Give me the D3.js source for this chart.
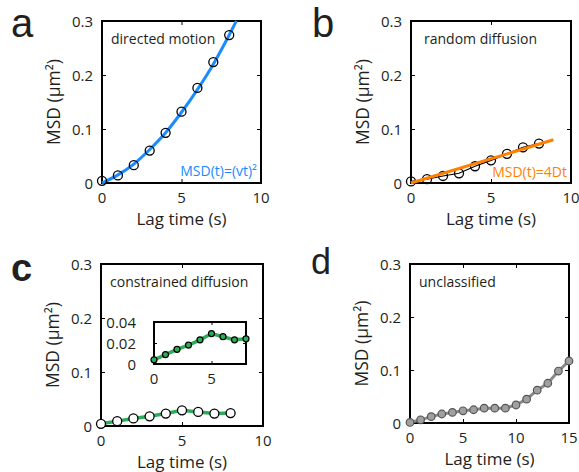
<!DOCTYPE html>
<html><head><meta charset="utf-8">
<script src="https://cdn.jsdelivr.net/npm/d3@7"></script>
<style>
html,body{margin:0;padding:0;background:#fff;}
svg{display:block;font-family:"Open Sans","Noto Sans",sans-serif;}
</style></head>
<body><svg id="chart" width="579" height="472"></svg>
<script>
// ---- data ----
const tA = [0,1,2,3,4,5,6,7,8];
const msdA = [0.004,0.014,0.033,0.060,0.093,0.132,0.176,0.224,0.274];
const fitTA = [0,1,2,3,4,5,6,7,8,8.45];
const fitA = [0,0.015,0.035,0.062,0.093,0.131,0.173,0.220,0.274,0.300];

const tB = [0,1,2,3,4,5,6,7,8];
const msdB = [0.003,0.007,0.013,0.018,0.031,0.042,0.054,0.066,0.073];
const fitTB = [0,8.9];
const fitB = [0,0.080];

const tC = [0,1,2,3,4,5,6,7,8];
const msdC = [0.004,0.009,0.014,0.018,0.023,0.029,0.026,0.023,0.024];

const tD = [0,1,2,3,4,5,6,7,8,9,10,11,12,13,14,15];
const msdD = [0.001,0.006,0.012,0.017,0.020,0.023,0.025,0.028,0.028,0.028,0.034,0.045,0.062,0.075,0.098,0.117];

const yTicks = [0,0.1,0.2,0.3];
const yTickLabels = ["0","0.1","0.2","0.3"];
const xTicks10 = [0,5,10];
const xTicks15 = [0,5,10,15];
const insetYTicks = [0,0.02,0.04];
const insetYLabels = ["0","0.02","0.04"];
const insetXTicks = [0,5];

const svg = d3.select("#chart");
const TXT = "#231f20";

function panel(o){
  const x = d3.scaleLinear().domain(o.xd).range([o.l,o.r]);
  const y = d3.scaleLinear().domain(o.yd).range([o.b,o.t]);
  const g = svg.append("g");
  const tl = o.tickLen || 4;
  g.append("g").attr("transform",`translate(0,${o.b})`).call(d3.axisBottom(x).tickValues(o.xt).tickSize(-tl).tickFormat(""));
  g.append("g").attr("transform",`translate(0,${o.t})`).call(d3.axisTop(x).tickValues(o.xt).tickSize(-tl).tickFormat(""));
  g.append("g").attr("transform",`translate(${o.l},0)`).call(d3.axisLeft(y).tickValues(o.yt).tickSize(-tl).tickFormat(""));
  g.append("g").attr("transform",`translate(${o.r},0)`).call(d3.axisRight(y).tickValues(o.yt).tickSize(-tl).tickFormat(""));
  g.selectAll(".domain").remove();
  g.selectAll(".tick line").attr("stroke","#000").attr("stroke-width",1);
  g.selectAll(null).data(o.xt).enter().append("text")
    .attr("x",d=>x(d)).attr("y",o.b+o.xlOff).attr("text-anchor","middle")
    .attr("font-size",o.fs).attr("fill",TXT).text(d=>d);
  g.selectAll(null).data(o.yt).enter().append("text")
    .attr("x",o.l-o.ylOff).attr("y",d=>y(d)+o.fs*0.36+1).attr("text-anchor","end")
    .attr("font-size",o.fs).attr("fill",TXT).text((d,i)=>o.ytl[i]);
  g.append("rect").attr("x",o.l).attr("y",o.t).attr("width",o.r-o.l).attr("height",o.b-o.t)
    .attr("fill","none").attr("stroke","#000").attr("stroke-width",2);
  return {x,y,g};
}

function labels(o){
  svg.append("text").attr("x",(o.l+o.r)/2).attr("y",o.b+42).attr("text-anchor","middle")
    .attr("font-size",17).attr("fill",TXT).text("Lag time (s)");
  svg.append("text").attr("transform",`translate(${o.l-42},${(o.t+o.b)/2}) rotate(-90)`)
    .attr("text-anchor","middle").attr("font-size",17.5).attr("fill",TXT).text("MSD (μm²)");
}

function letter(t,x,y,fs,w){
  svg.append("text").attr("x",x).attr("y",y).attr("font-size",fs).attr("fill",TXT)
    .attr("font-family","'Liberation Sans',Arial,sans-serif")
    .attr("font-weight",w||"normal").text(t);
}

const common = {fs:15, xlOff:19.5, ylOff:9, yd:[0,0.3], yt:yTicks, ytl:yTickLabels};

// ---- Panel a ----
const A = Object.assign({l:102,r:261,t:21,b:183,xd:[0,10],xt:xTicks10},common);
const pa = panel(A); labels(A);
letter("a",11,37,40);
pa.g.append("path").datum(d3.zip(fitTA,fitA))
  .attr("d",d3.line().x(d=>pa.x(d[0])).y(d=>pa.y(d[1])).curve(d3.curveMonotoneX))
  .attr("fill","none").attr("stroke","#1a8cff").attr("stroke-width",3);
pa.g.selectAll(null).data(d3.zip(tA,msdA)).enter().append("circle")
  .attr("cx",d=>pa.x(d[0])).attr("cy",d=>pa.y(d[1])).attr("r",4.5)
  .attr("fill","none").attr("stroke","#000").attr("stroke-width",1.3);
svg.append("text").attr("x",111).attr("y",44).attr("font-size",14).attr("fill",TXT).text("directed motion");
svg.append("text").attr("x",257).attr("y",176).attr("text-anchor","end").attr("font-size",14).attr("fill","#1a8cff").text("MSD(t)=(vt)²");

// ---- Panel b ----
const B = Object.assign({l:411,r:571,t:21,b:183,xd:[0,10],xt:xTicks10},common);
const pb = panel(B); labels(B);
letter("b",312,37,40);
pb.g.append("path").datum(d3.zip(tB,msdB))
  .attr("d",d3.line().x(d=>pb.x(d[0])).y(d=>pb.y(d[1])))
  .attr("fill","none").attr("stroke","#000").attr("stroke-width",1.2);
pb.g.selectAll(null).data(d3.zip(tB,msdB)).enter().append("circle")
  .attr("cx",d=>pb.x(d[0])).attr("cy",d=>pb.y(d[1])).attr("r",4.5)
  .attr("fill","none").attr("stroke","#000").attr("stroke-width",1.3);
pb.g.append("path").datum(d3.zip(fitTB,fitB))
  .attr("d",d3.line().x(d=>pb.x(d[0])).y(d=>pb.y(d[1])))
  .attr("fill","none").attr("stroke","#ff8000").attr("stroke-width",3);
svg.append("text").attr("x",424).attr("y",44).attr("font-size",14).attr("fill",TXT).text("random diffusion");
svg.append("text").attr("x",567).attr("y",177).attr("text-anchor","end").attr("font-size",14).attr("fill","#ff8000").text("MSD(t)=4Dt");

// ---- Panel c ----
const C = Object.assign({l:101,r:263,t:264,b:426,xd:[0,10],xt:xTicks10},common);
const pc = panel(C); labels(C);
letter("c",11,281,38,"bold");
const green = "#2fac5a";
pc.g.append("path").datum(d3.zip(tC,msdC))
  .attr("d",d3.line().x(d=>pc.x(d[0])).y(d=>pc.y(d[1])))
  .attr("fill","none").attr("stroke",green).attr("stroke-width",3.5);
pc.g.selectAll(null).data(d3.zip(tC,msdC)).enter().append("circle")
  .attr("cx",d=>pc.x(d[0])).attr("cy",d=>pc.y(d[1])).attr("r",4.5)
  .attr("fill","#fff").attr("stroke","#000").attr("stroke-width",1.3);
svg.append("text").attr("x",110).attr("y",287).attr("font-size",14).attr("fill",TXT).text("constrained diffusion");
// inset
const I = {l:154,r:246,t:322,b:364,xd:[0,8],yd:[0,0.04],xt:insetXTicks,yt:insetYTicks,ytl:insetYLabels,fs:15,xlOff:20,ylOff:18,tickLen:3};
svg.append("rect").attr("x",I.l).attr("y",I.t).attr("width",I.r-I.l).attr("height",I.b-I.t).attr("fill","#fff");
const pi = panel(I);
pi.g.append("path").datum(d3.zip(tC,msdC))
  .attr("d",d3.line().x(d=>pi.x(d[0])).y(d=>pi.y(d[1])))
  .attr("fill","none").attr("stroke",green).attr("stroke-width",3.5);
pi.g.selectAll(null).data(d3.zip(tC,msdC)).enter().append("circle")
  .attr("cx",d=>pi.x(d[0])).attr("cy",d=>pi.y(d[1])).attr("r",3)
  .attr("fill",green).attr("stroke","#000").attr("stroke-width",1.2);

// ---- Panel d ----
const D = Object.assign({l:410,r:569,t:264,b:423,xd:[0,15],xt:xTicks15},common);
const pd = panel(D); labels(D);
letter("d",311,274,36);
pd.g.append("path").datum(d3.zip(tD,msdD))
  .attr("d",d3.line().x(d=>pd.x(d[0])).y(d=>pd.y(d[1])))
  .attr("fill","none").attr("stroke","#8a8a8a").attr("stroke-width",3);
pd.g.selectAll(null).data(d3.zip(tD,msdD)).enter().append("circle")
  .attr("cx",d=>pd.x(d[0])).attr("cy",d=>pd.y(d[1])).attr("r",3.8)
  .attr("fill","#a0a0a0").attr("stroke","#555").attr("stroke-width",1.2);
svg.append("text").attr("x",419).attr("y",287).attr("font-size",14).attr("fill",TXT).text("unclassified");
</script></body></html>
